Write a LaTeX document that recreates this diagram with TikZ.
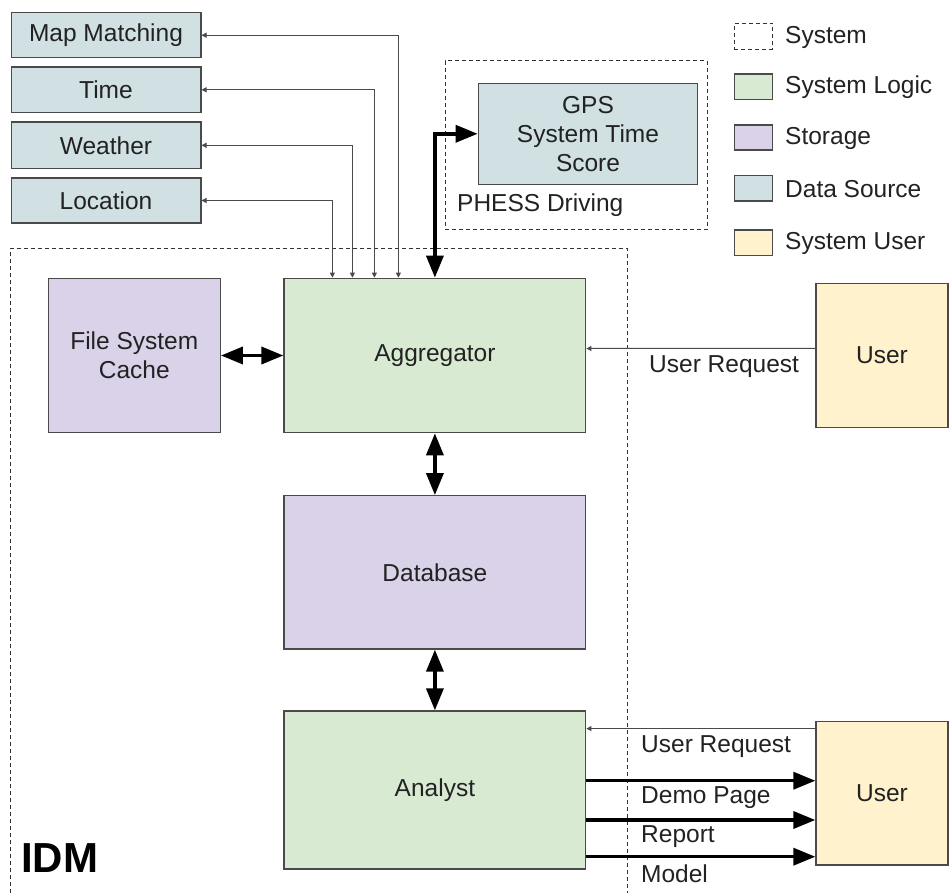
\documentclass[tikz,border=0pt]{standalone}
\usepackage{fontspec}
\setmainfont{Liberation Sans}
\usetikzlibrary{arrows.meta,calc}
\definecolor{dsfill}{HTML}{D0E0E3}
\definecolor{slfill}{HTML}{D9EAD3}
\definecolor{stfill}{HTML}{D9D2E9}
\definecolor{sufill}{HTML}{FFF2CC}
\definecolor{edge}{HTML}{4A4A4A}
\definecolor{txt}{HTML}{222222}
\tikzset{
  box/.style={draw=edge, line width=1.3pt, rectangle, inner sep=2pt, align=center, text=txt,
    font=\fontsize{24.5}{29}\selectfont},
  ds/.style={box, fill=dsfill},
  sl/.style={box, fill=slfill},
  st/.style={box, fill=stfill},
  su/.style={box, fill=sufill},
  sysline/.style={draw=black!80, line width=1pt, dash pattern=on 4pt off 3pt},
  lbl/.style={anchor=west, inner sep=0pt, text=txt, font=\fontsize{24.5}{29}\selectfont},
  tarrow/.style={draw=edge, line width=1pt, {Triangle[length=5pt,width=5pt]}-{Triangle[length=5pt,width=5pt]}},
  tarrowone/.style={draw=edge, line width=1pt, -{Triangle[length=5pt,width=5pt]}},
  bigarrow/.style={draw=black, line width=3.5pt, -{Triangle[length=22pt,width=17pt]}, shorten >=0pt},
  bigdouble/.style={draw=black, line width=3.5pt, {Triangle[length=22pt,width=17pt]}-{Triangle[length=22pt,width=17pt]}},
}
\begin{document}
\begin{tikzpicture}[x=1pt,y=-1pt]
\useasboundingbox (0,0) rectangle (950,893);

% IDM container (open at bottom)
\draw[sysline] (10.7,893) -- (10.7,248.3) -- (627,248.3) -- (627,893);
\node[anchor=west, inner sep=0pt, text=black, font=\fontsize{42}{50}\selectfont\bfseries] (idm) at (21,858) {IDM};

% PHESS container
\node[sysline, minimum width=262pt, minimum height=169pt, inner sep=0pt] (phess) at (576.2,145.5) {};
\node[ds, minimum width=219.4pt, minimum height=101pt] (gps) at (588,133.8) {GPS\\System Time\\Score};
\node[lbl] (phesslbl) at (457,205) {PHESS Driving};

% Data sources
\node[ds, minimum width=189.7pt, minimum height=45pt] (mm) at (106,35.2) {Map Matching};
\node[ds, minimum width=189.7pt, minimum height=45.7pt] (time) at (106,89.8) {Time};
\node[ds, minimum width=189.7pt, minimum height=46.7pt] (wea) at (106,145.3) {Weather};
\node[ds, minimum width=189.7pt, minimum height=45pt] (loc) at (106,200.5) {Location};

% Main blocks
\node[st, minimum width=172pt, minimum height=154.4pt] (fsc) at (134.3,355.5) {File System\\Cache};
\node[sl, minimum width=301.7pt, minimum height=154.4pt] (agg) at (434.9,355.5) {Aggregator};
\node[st, minimum width=301.7pt, minimum height=153.3pt] (db) at (434.9,572.4) {Database};
\node[sl, minimum width=301.7pt, minimum height=158pt] (an) at (434.9,790) {Analyst};

% Users
\node[su, minimum width=132pt, minimum height=144pt] (u1) at (882,355.3) {User};
\node[su, minimum width=132pt, minimum height=143.3pt] (u2) at (882,793.3) {User};

% Legend
\node[sysline, minimum width=38.4pt, minimum height=25.7pt, inner sep=0pt] (lg1) at (753.5,36.2) {};
\node[lbl] (lt1) at (785,37) {System};
\node[box, fill=slfill, minimum width=38.4pt, minimum height=25.3pt, inner sep=0pt] (lg2) at (753.5,86.7) {};
\node[lbl] (lt2) at (785,87.5) {System Logic};
\node[box, fill=stfill, minimum width=38.4pt, minimum height=25pt, inner sep=0pt] (lg3) at (753.5,137.5) {};
\node[lbl] (lt3) at (785,138.5) {Storage};
\node[box, fill=dsfill, minimum width=38.4pt, minimum height=25.3pt, inner sep=0pt] (lg4) at (753.5,188.3) {};
\node[lbl] (lt4) at (785,189) {Data Source};
\node[box, fill=sufill, minimum width=38.4pt, minimum height=25.7pt, inner sep=0pt] (lg5) at (753.5,242.8) {};
\node[lbl] (lt5) at (785,243.5) {System User};

% Thin data source connectors
\draw[tarrow] (mm.east) -| ([xshift=115pt]agg.north west);
\draw[tarrow] (time.east) -| ([xshift=91pt]agg.north west);
\draw[tarrow] (wea.east) -| ([xshift=69pt]agg.north west);
\draw[tarrow] (loc.east) -| ([xshift=49pt]agg.north west);

% GPS thick connector
\draw[bigdouble] (gps.west) -| (agg.north);

% Thick double arrows
\draw[bigdouble] (fsc.east) -- (agg.west);
\draw[bigdouble] (agg.south) -- (db.north);
\draw[bigdouble] (db.south) -- (an.north);

% User requests
\draw[tarrowone] ([yshift=7pt]u1.west) -- ([yshift=7pt]agg.east);
\node[lbl] (ur1) at (649,366.7) {User Request};

\coordinate (r2) at ([yshift=-7.6pt]u2.north west);
\draw[tarrowone] (r2) -- (an.east |- r2);
\node[lbl] (ur2) at (641,747) {User Request};

% Outputs
\coordinate (o1) at ([yshift=9.3pt]an.east);
\coordinate (o2) at ([yshift=-30pt]an.east);
\coordinate (o3) at ([yshift=-66.7pt]an.east);
\draw[bigarrow] (o1) -- (u2.west |- o1);
\draw[bigarrow] (o2) -- (u2.west |- o2);
\draw[bigarrow] (o3) -- (u2.west |- o3);
\node[lbl] (l1) at (641,798) {Demo Page};
\node[lbl] (l2) at (641,836.7) {Report};
\node[lbl] (l3) at (641,873.3) {Model};
\end{tikzpicture}
\end{document}
